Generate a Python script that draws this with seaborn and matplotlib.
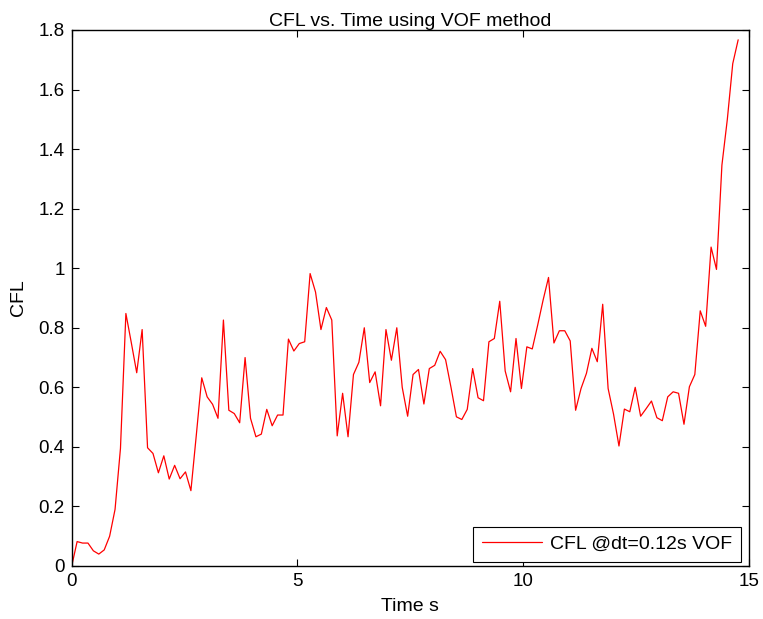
import numpy as np
import pandas as pd
import matplotlib
matplotlib.use("Agg")
import matplotlib.pyplot as plt
import seaborn as sns

# CFL values sampled every dt = 0.12 s
dt = 0.12
cfl = [0.000, 0.082, 0.077, 0.077, 0.051, 0.040, 0.054, 0.100, 0.190, 0.395,
       0.848, 0.750, 0.649, 0.794, 0.397, 0.378, 0.313, 0.370, 0.292, 0.338,
       0.293, 0.316, 0.253, 0.440, 0.632, 0.568, 0.543, 0.496, 0.826, 0.523,
       0.512, 0.481, 0.700, 0.496, 0.434, 0.443, 0.526, 0.471, 0.507, 0.507,
       0.762, 0.722, 0.747, 0.753, 0.982, 0.920, 0.794, 0.868, 0.826, 0.437,
       0.580, 0.434, 0.643, 0.684, 0.800, 0.616, 0.652, 0.538, 0.794, 0.691,
       0.800, 0.600, 0.503, 0.643, 0.660, 0.544, 0.663, 0.674, 0.721, 0.693,
       0.600, 0.501, 0.492, 0.526, 0.663, 0.565, 0.555, 0.753, 0.764, 0.889,
       0.655, 0.585, 0.764, 0.596, 0.736, 0.729, 0.809, 0.893, 0.969, 0.749,
       0.790, 0.790, 0.756, 0.523, 0.596, 0.647, 0.731, 0.686, 0.879, 0.596,
       0.510, 0.403, 0.527, 0.518, 0.600, 0.503, 0.528, 0.554, 0.498, 0.488,
       0.568, 0.585, 0.580, 0.476, 0.602, 0.643, 0.857, 0.805, 1.071, 0.996,
       1.346, 1.500, 1.687, 1.767]
time = np.arange(len(cfl)) * dt

x_ticks = [0, 5, 10, 15]
x_tick_labels = ["0", "5", "10", "15"]
y_ticks = [0, 0.2, 0.4, 0.6, 0.8, 1.0, 1.2, 1.4, 1.6, 1.8]
y_tick_labels = ["0", "0.2", "0.4", "0.6", "0.8", "1", "1.2", "1.4", "1.6", "1.8"]
series_label = "CFL @dt=0.12s VOF"

df = pd.DataFrame({"Time": time, "CFL": cfl, "series": series_label})

sns.set_style("ticks")
plt.rcParams["font.family"] = ["Liberation Sans", "DejaVu Sans"]
plt.rcParams["text.color"] = "black"
plt.rcParams["axes.labelcolor"] = "black"
plt.rcParams["xtick.color"] = "black"
plt.rcParams["ytick.color"] = "black"

fig = plt.figure(figsize=(7.63, 6.19), dpi=100)
ax = fig.add_axes([71.7 / 763, (619 - 566) / 619, (749 - 71.7) / 763, (566 - 30) / 619])

sns.lineplot(data=df, x="Time", y="CFL", hue="series", palette=["#ff0000"],
             sort=False, linewidth=0.9, ax=ax, legend=True)

ax.set_xlim(0, 15)
ax.set_ylim(0, 1.8)
ax.set_xticks(x_ticks)
ax.set_xticklabels(x_tick_labels)
ax.set_yticks(y_ticks)
ax.set_yticklabels(y_tick_labels)

ax.tick_params(direction="in", length=5, width=0.8, colors="black",
               labelsize=13.5, top=True, right=True, pad=5)
for s in ax.spines.values():
    s.set_visible(True)
    s.set_color("black")
    s.set_linewidth(1.0)

ax.set_title("CFL vs. Time using VOF method", fontsize=14, pad=3, color="black")
ax.set_xlabel("Time s", fontsize=14, labelpad=6, color="black")
ax.set_ylabel("CFL", fontsize=14, labelpad=8, color="black")

leg = ax.legend(loc="lower right", bbox_to_anchor=(1 - 8 / 677.3, 4 / 536),
                frameon=True, fancybox=False, framealpha=1, edgecolor="black",
                fontsize=14, handlelength=3.1, handletextpad=0.41,
                borderpad=0.45, borderaxespad=0)
leg.get_frame().set_linewidth(0.8)
for h in leg.get_lines():
    h.set_linewidth(0.9)
for t in leg.get_texts():
    t.set_color("black")

fig.savefig("out.png", dpi=100, facecolor="white")
